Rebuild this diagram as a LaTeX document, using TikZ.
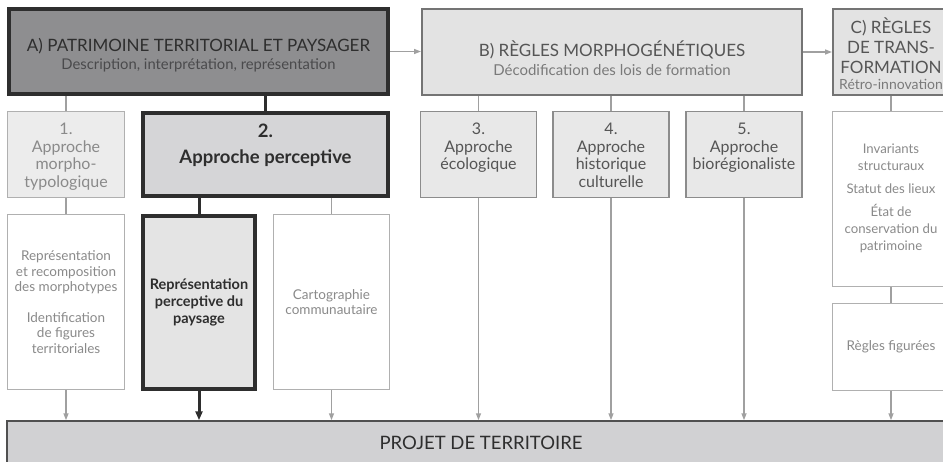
\documentclass[tikz,border=0pt]{standalone}
\usepackage{fontspec}
\setmainfont{Lato}
\usetikzlibrary{arrows.meta, positioning}

\definecolor{inkdark}{HTML}{2E2E2E}
\definecolor{fillA}{HTML}{8E8E90}
\definecolor{txtAsub}{HTML}{4A4A4C}
\definecolor{fillsoft}{HTML}{E3E3E3}
\definecolor{linegray}{HTML}{747474}
\definecolor{txtB}{HTML}{555555}
\definecolor{txtBsub}{HTML}{7A7A7A}
\definecolor{filllight}{HTML}{ECECEC}
\definecolor{lightline}{HTML}{B0B0B0}
\definecolor{txtlight}{HTML}{8A8A8A}
\definecolor{fillmid}{HTML}{D5D5D7}
\definecolor{fillapp}{HTML}{E8E8E8}
\definecolor{midline}{HTML}{8C8C8C}
\definecolor{txtmid}{HTML}{555555}
\definecolor{filld}{HTML}{E4E4E4}
\definecolor{fillP}{HTML}{D1D1D3}
\definecolor{projline}{HTML}{505050}
\definecolor{arrowgray}{HTML}{A0A0A0}

\begin{document}
\begin{tikzpicture}[x=1pt, y=-1pt,
        phase_strong/.style={rectangle, draw=inkdark, line width=4pt, inner sep=0pt, align=center},
        phase_soft/.style={rectangle, draw=linegray, line width=2pt, fill=fillsoft, inner sep=0pt, minimum height=86pt},
        approach/.style={rectangle, draw=midline, line width=1.2pt, fill=fillapp, inner sep=0pt, minimum width=116pt, minimum height=86pt},
        result/.style={rectangle, draw=lightline, line width=1pt, fill=white, inner sep=0pt, align=center, text=txtlight, font=\fontsize{13.5}{15.5}\selectfont},
        caption/.style={inner sep=0pt, align=center, font=\fontsize{16}{17.5}\selectfont},
        link/.style={line width=1.5pt, draw=arrowgray},
        flow/.style={-{Triangle[length=7pt, width=5pt]}, line width=1.5pt, draw=arrowgray},
        main_link/.style={line width=3pt, draw=inkdark},
        main_flow/.style={-{Triangle[length=9pt, width=7pt]}, line width=3pt, draw=inkdark}
    ]
    \useasboundingbox (0,0) rectangle (943,461);

    % top row: the three phases
    \node[phase_strong, fill=fillA, minimum width=379pt, minimum height=85pt] (A) at (198.5,51.5) {};
    \node[phase_soft, minimum width=380pt] (B) at (612,52) {};
    \node[phase_soft, minimum width=116pt] (C) at (891,52) {};

    \node[caption, text=inkdark, font=\fontsize{17}{17.5}\selectfont, below=31.5pt of A.north] (At)
        {A) PATRIMOINE TERRITORIAL ET PAYSAGER\\{\fontsize{14.8}{16}\selectfont\color{txtAsub}Description, interprétation, représentation}};
    \node[caption, text=txtB, font=\fontsize{17}{18.5}\selectfont, below=33pt of B.north] (Bt)
        {B) RÈGLES MORPHOGÉNÉTIQUES\\{\fontsize{15}{16}\selectfont\color{txtBsub}Décodification des lois de formation}};
    \node[caption, text=txtB, font=\fontsize{17}{20}\selectfont, below=10pt of C.north] (Ct)
        {C) RÈGLES\\DE TRANS-\\FORMATION\\[-4pt]{\fontsize{14}{16}\selectfont\color{txtBsub}Rétro-innovation}};

    % second row: approaches
    \node[approach, fill=filllight, draw=lightline, minimum width=117pt] (b1) at (66,154.5) {};
    \node[phase_strong, fill=fillmid, minimum width=245pt, minimum height=83pt] (b2) at (265.5,154.5) {};
    \node[approach] (b3) at (478.5,154.5) {};
    \node[approach] (b4) at (611,154.5) {};
    \node[approach] (b5) at (744,154.5) {};

    \node[caption, text=txtlight, below=12pt of b1.north] (b1t) {1.\\Approche\\morpho-\\typologique};
    \node[caption, text=inkdark, font=\fontsize{18.5}{26}\selectfont\bfseries, below=13pt of b2.north] (b2t) {2.\\Approche perceptive};
    \node[caption, text=txtmid, below=12pt of b3.north] (b3t) {3.\\Approche\\écologique};
    \node[caption, text=txtmid, below=12pt of b4.north] (b4t) {4.\\Approche\\historique\\culturelle};
    \node[caption, text=txtmid, below=12pt of b5.north] (b5t) {5.\\Approche\\biorégionaliste};

    % third row: outputs
    \node[result, minimum width=117pt, minimum height=175pt] (d1) at (66,302)
        {Représentation\\et recomposition\\des morphotypes\\[15pt]Identification\\de figures\\territoriales};
    \node[phase_strong, fill=filld, minimum width=112pt, minimum height=173pt, text=inkdark, font=\fontsize{14.5}{17}\selectfont\bfseries] (d2) at (199,302.5)
        {Représentation\\perceptive du\\paysage};
    \node[result, minimum width=116pt, minimum height=175pt] (d3) at (331.5,302)
        {Cartographie\\communautaire};
    \node[result, minimum width=117pt, minimum height=175pt, font=\fontsize{13.2}{17}\selectfont] (c1) at (891,199)
        {Invariants\\structuraux\\[6pt]Statut des lieux\\[6pt]État de\\conservation du\\patrimoine\\[-14pt]};
    \node[result, minimum width=117pt, minimum height=87pt] (c2) at (891,347) {Règles figurées};

    % bottom band
    \node[rectangle, draw=projline, line width=1.5pt, fill=fillP, minimum width=948pt, minimum height=43pt, text=inkdark, font=\fontsize{18.5}{21}\selectfont] (P) at (481,442.5) {PROJET DE TERRITOIRE};

    % connectors
    \draw[flow] (A.east) -- (A.east -| B.west);
    \draw[flow] (B.east) -- (C.west);
    \draw[link] (A.south -| b1.north) -- (b1.north);
    \draw[main_link] (A.south -| b2.north) -- (b2.north);
    \foreach \n in {b3,b4,b5} {
        \draw[link] (B.south -| \n.north) -- (\n.north);
        \draw[flow] (\n.south) -- (\n.south |- P.north);
    }
    \draw[link] (C.south) -- (C.south |- c1.north);
    \draw[link] (c1.south) -- (c2.north);
    \draw[flow] (c2.south) -- (c2.south |- P.north);
    \draw[link] (b1.south) -- (d1.north);
    \draw[main_link] (b2.south -| d2.north) -- (d2.north);
    \draw[link] (b2.south -| d3.north) -- (d3.north);
    \foreach \n in {d1,d3} \draw[flow] (\n.south) -- (\n.south |- P.north);
    \draw[main_flow] (d2.south) -- (d2.south |- P.north);
\end{tikzpicture}
\end{document}
